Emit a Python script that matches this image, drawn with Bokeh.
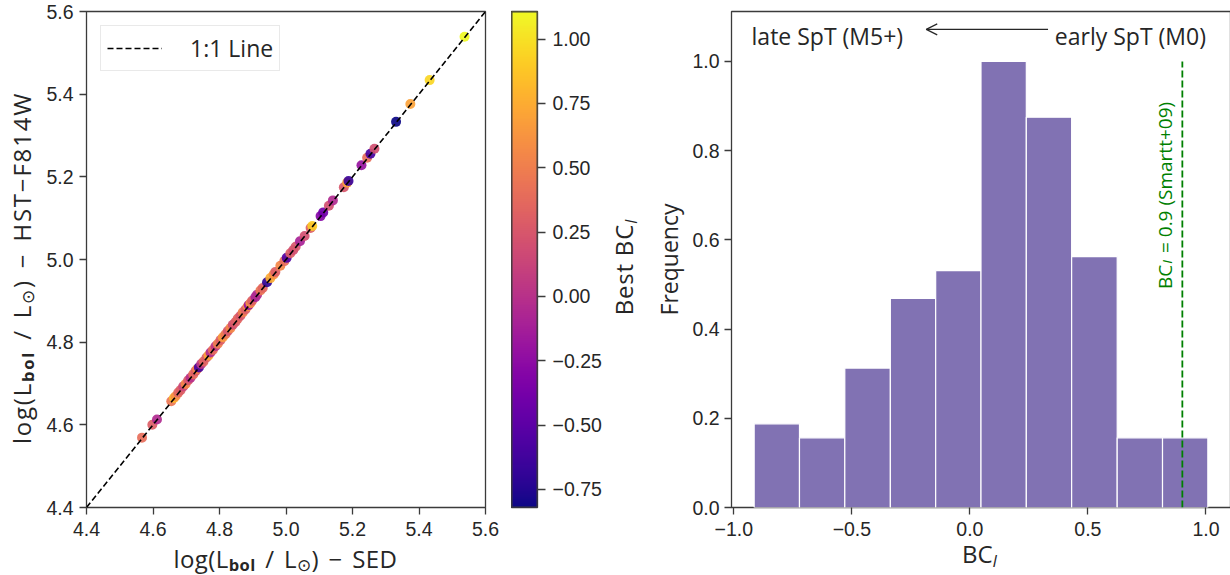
import math
import numpy as np
from bokeh.plotting import figure
from bokeh.layouts import row, column
from bokeh.models import (ColumnDataSource, LinearColorMapper, Label, Legend, LegendItem,
                          Arrow, OpenHead, FixedTicker, CustomJSTickFormatter, BoxAnnotation,
                          Div)
from bokeh.palettes import Plasma256
from bokeh.embed import file_html
from bokeh.resources import INLINE

# --- bolometric luminosities: SED fit vs HST-F814W + best bolometric correction ---
lum_sed = [4.567, 4.598, 4.612, 4.655, 4.663, 4.668, 4.676, 4.683, 4.691, 4.698,
           4.706, 4.713, 4.721, 4.728, 4.733, 4.738, 4.745, 4.752, 4.761, 4.767,
           4.773, 4.780, 4.788, 4.795, 4.803, 4.810, 4.818, 4.825, 4.833, 4.840,
           4.848, 4.855, 4.863, 4.870, 4.878, 4.885, 4.888, 4.893, 4.898, 4.908,
           4.913, 4.923, 4.930, 4.943, 4.953, 4.963, 4.968, 4.983, 4.995, 5.002,
           5.013, 5.022, 5.029, 5.042, 5.056, 5.074, 5.079, 5.104, 5.112, 5.129,
           5.141, 5.174, 5.184, 5.188, 5.227, 5.244, 5.254, 5.266, 5.331, 5.374,
           5.432, 5.537]
lum_hst = [4.569, 4.600, 4.613, 4.657, 4.665, 4.669, 4.678, 4.684, 4.693, 4.699,
           4.708, 4.714, 4.722, 4.730, 4.735, 4.739, 4.747, 4.753, 4.763, 4.768,
           4.775, 4.781, 4.790, 4.796, 4.805, 4.812, 4.819, 4.827, 4.834, 4.842,
           4.849, 4.857, 4.864, 4.872, 4.879, 4.887, 4.890, 4.894, 4.900, 4.909,
           4.915, 4.925, 4.931, 4.945, 4.955, 4.964, 4.970, 4.985, 4.996, 5.004,
           5.015, 5.023, 5.031, 5.044, 5.057, 5.076, 5.081, 5.105, 5.114, 5.130,
           5.143, 5.175, 5.186, 5.190, 5.228, 5.246, 5.256, 5.268, 5.333, 5.376,
           5.434, 5.539]
best_bc = [0.40, 0.30, -0.05, 0.45, 0.80, 0.60, 0.35, 0.30, 0.15, 0.55,
           0.25, 0.00, 0.40, 0.30, 0.55, -0.60, 0.05, 0.35, 0.30, 0.70,
           -0.05, 0.40, 0.05, 0.50, 0.30, 0.65, 0.45, 0.25, 0.55, 0.20,
           0.30, 0.35, 0.25, 0.50, 0.30, 0.60, -0.20, 0.60, 0.30, -0.10,
           -0.05, 0.45, 0.35, -0.70, 0.75, 0.60, 0.30, 0.55, 0.40, -0.55,
           0.30, 0.20, 0.25, -0.10, 0.20, 0.30, 0.90, -0.30, -0.40, 0.20,
           -0.05, 0.25, 0.70, -0.65, -0.20, 0.40, -0.60, 0.20, -0.82, 0.70,
           0.95, 1.107]
one_to_one = [4.4, 5.6]

# --- distribution of bolometric corrections ---
bc_bin_edges = [-0.914, -0.722, -0.530, -0.337, -0.145, 0.047, 0.239, 0.431, 0.624, 0.816, 1.008]
bc_frequency = [0.1875, 0.15625, 0.3125, 0.46875, 0.53125, 1.0, 0.875, 0.5625, 0.15625, 0.15625]
smartt_bc = 0.9

lum_ticks = [4.4, 4.6, 4.8, 5.0, 5.2, 5.4, 5.6]
cbar_ticks = [-0.75, -0.5, -0.25, 0.0, 0.25, 0.5, 0.75, 1.0]
bc_ticks = [-1.0, -0.5, 0.0, 0.5, 1.0]
freq_ticks = [0.0, 0.2, 0.4, 0.6, 0.8, 1.0]

INK = "#262626"
SPINE = "#3b3b3b"
LABEL_FONT = "Open Sans"
TICK_FONT = "Liberation Sans"
TICK_SIZE = "19.5px"

FRAME_H = 496
TOP = 11

SUB_BOL = '<span style="font-size:16.5px;font-weight:bold;position:relative;top:3px">bol</span>'
SUB_SUN = '<span style="font-size:16.5px;position:relative;top:3px">\u2299</span>'
SUB_I = '<span style="font-size:16.5px;font-style:italic;position:relative;top:4px">I</span>'
LUM_HEAD = "log(L" + SUB_BOL + " / L" + SUB_SUN + ")"


def html_title(width, height, inner, cx, cy, rotate=False, size=24, spacing=0.0, words=3):
    """Axis title drawn as HTML so sub-scripts stay real text; centred on (cx, cy)."""
    turn = " rotate(-90deg)" if rotate else ""
    html = (
        f'<div style="position:relative;width:{width}px;height:{height}px;overflow:visible">'
        f'<div style="position:absolute;left:{cx}px;top:{cy}px;'
        f'transform:translate(-50%,-50%){turn};white-space:nowrap;line-height:1;'
        f"font-family:'{LABEL_FONT}';font-size:{size}px;color:{INK};word-spacing:{words}px;"
        f'letter-spacing:{spacing}px">'
        f"{inner}</div></div>")
    return Div(text=html, width=width, height=height, margin=0)


def style_axes(p, xticks, yticks, xdigits, ydigits):
    p.outline_line_color = SPINE
    p.outline_line_width = 1.3
    p.grid.visible = False
    p.background_fill_color = "white"
    p.border_fill_color = "white"
    for ax, ticks, digits in ((p.xaxis, xticks, xdigits), (p.yaxis, yticks, ydigits)):
        ax.ticker = FixedTicker(ticks=ticks)
        ax.formatter = CustomJSTickFormatter(
            code="return tick.toFixed(%d).replace('-', '\u2212');" % digits)
        ax.axis_line_color = None
        ax.major_tick_line_color = SPINE
        ax.major_tick_line_width = 1.3
        ax.major_tick_out = 7
        ax.major_tick_in = 0
        ax.minor_tick_line_color = None
        ax.major_label_text_font = TICK_FONT
        ax.major_label_text_font_size = TICK_SIZE
        ax.major_label_text_color = INK
    p.xaxis.major_label_standoff = 7
    p.yaxis.major_label_standoff = 6


# ---------------- luminosity comparison ----------------
lum_range = (lum_ticks[0], lum_ticks[-1])
pA = figure(frame_width=399, frame_height=FRAME_H, x_range=lum_range, y_range=lum_range,
            min_border_left=46, min_border_right=26, min_border_top=TOP,
            min_border_bottom=38, toolbar_location=None, output_backend="svg")
style_axes(pA, lum_ticks, lum_ticks, 1, 1)

mapper = LinearColorMapper(palette=Plasma256, low=min(best_bc), high=max(best_bc))
src = ColumnDataSource(dict(x=lum_sed, y=lum_hst, bc=best_bc))
pA.scatter("x", "y", source=src, size=10, line_color=None, fill_alpha=0.92,
           fill_color={"field": "bc", "transform": mapper})
ref = pA.line(one_to_one, one_to_one, line_color="black", line_width=1.6, line_dash="6 3")

legend = Legend(items=[LegendItem(label="1:1 Line", renderers=[ref])], location="top_left",
                margin=14, padding=6, spacing=0, glyph_width=55, glyph_height=20,
                label_height=20, label_standoff=28, border_line_color="#d4d4d4",
                border_line_width=1, background_fill_color="white", background_fill_alpha=1,
                label_text_font=LABEL_FONT, label_text_font_size="23px",
                label_text_color=INK)
pA.add_layout(legend)

ylab_A = html_title(40, 575, LUM_HEAD + " \u2212 HST\u2212F814W", 22, 268, rotate=True,
                    spacing=1.8)
xlab_A = html_title(471, 30, LUM_HEAD + " \u2212 SED", 245.5, 13.5, spacing=0.4)

# ---------------- colour bar ----------------
cb_low, cb_high = mapper.low, mapper.high
pB = figure(frame_width=26, frame_height=FRAME_H, x_range=(0, 1), y_range=(cb_low, cb_high),
            y_axis_location="right", min_border_left=0, min_border_right=68,
            min_border_top=TOP, min_border_bottom=68, toolbar_location=None,
            output_backend="svg")
style_axes(pB, [], cbar_ticks, 1, 2)
pB.xaxis.visible = False
pB.yaxis.major_label_standoff = 7
pB.yaxis.major_tick_out = 8
ramp = np.linspace(cb_low, cb_high, 256).reshape(256, 1)
pB.image(image=[ramp], x=0, y=cb_low, dw=1, dh=cb_high - cb_low, color_mapper=mapper)
pB.add_layout(BoxAnnotation(left=0, right=1, bottom=cb_low, top=cb_high, fill_alpha=0,
                            line_color=SPINE, line_width=2, line_alpha=1, level="overlay"))
cblab = html_title(45, 575, "Best BC" + SUB_I, 19, 267, rotate=True, spacing=0.8, words=0)

# ---------------- BC histogram ----------------
bc_range = (-1.010, 1.104)
freq_range = (0, 1.112)
pC = figure(frame_width=499, frame_height=FRAME_H, x_range=bc_range, y_range=freq_range,
            min_border_left=80, min_border_right=1, min_border_top=TOP,
            min_border_bottom=38, toolbar_location=None, output_backend="svg")
style_axes(pC, bc_ticks, freq_ticks, 1, 1)
pC.yaxis.major_label_standoff = 5
pC.yaxis.axis_label = "Frequency"
pC.yaxis.axis_label_text_font = LABEL_FONT
pC.yaxis.axis_label_text_font_size = "23px"
pC.yaxis.axis_label_text_font_style = "normal"
pC.yaxis.axis_label_text_color = INK
pC.yaxis.axis_label_standoff = 4

pC.quad(left=bc_bin_edges[:-1], right=bc_bin_edges[1:], bottom=0, top=bc_frequency,
        fill_color="#8172B3", line_color="white", line_width=1.2)
pC.line([smartt_bc, smartt_bc], [0, max(bc_frequency)], line_color="green",
        line_width=1.8, line_dash="7 3")

# reference value label, reading upwards beside the dashed line
smartt_x = 0.828
smartt_y0 = 0.49
smartt_parts = [("BC", 19, "normal", 0.0), ("I", 13.5, "italic", 0.0055),
                ("= 0.9 (Smartt+09)", 19, "normal", 0.0)]
smartt_steps = [0.0, 0.0565, 0.0805]
for (txt, size, style, dx), step in zip(smartt_parts, smartt_steps):
    pC.add_layout(Label(x=smartt_x + dx, y=smartt_y0 + step, text=txt, angle=math.pi / 2,
                        text_font=LABEL_FONT, text_font_size=f"{size}px",
                        text_font_style=style, text_color="green", text_align="left",
                        text_baseline="alphabetic"))

# spectral-type direction annotation along the top
spt_y = 1.057
pC.add_layout(Label(x=-0.925, y=spt_y, text="late SpT (M5+)", text_font=LABEL_FONT,
                    text_font_size="23px", text_color=INK, text_align="left",
                    text_baseline="alphabetic"))
pC.add_layout(Label(x=1.0, y=spt_y, text="early SpT (M0)", text_font=LABEL_FONT,
                    text_font_size="23px", text_color=INK, text_align="right",
                    text_baseline="alphabetic"))
pC.add_layout(Arrow(x_start=0.331, y_start=1.072, x_end=-0.185, y_end=1.072,
                    line_color=INK, line_width=1.2,
                    end=OpenHead(size=11, line_color=INK, line_width=1.2)))

xlab_C = html_title(580, 30, "BC" + SUB_I, 329.5, 9)

layout = row(ylab_A, column(pA, xlab_A), pB, cblab, column(pC, xlab_C))
with open("out.html", "w", encoding="utf-8") as fh:
    fh.write(file_html(layout, INLINE, title="Bolometric luminosity and BC_I"))
